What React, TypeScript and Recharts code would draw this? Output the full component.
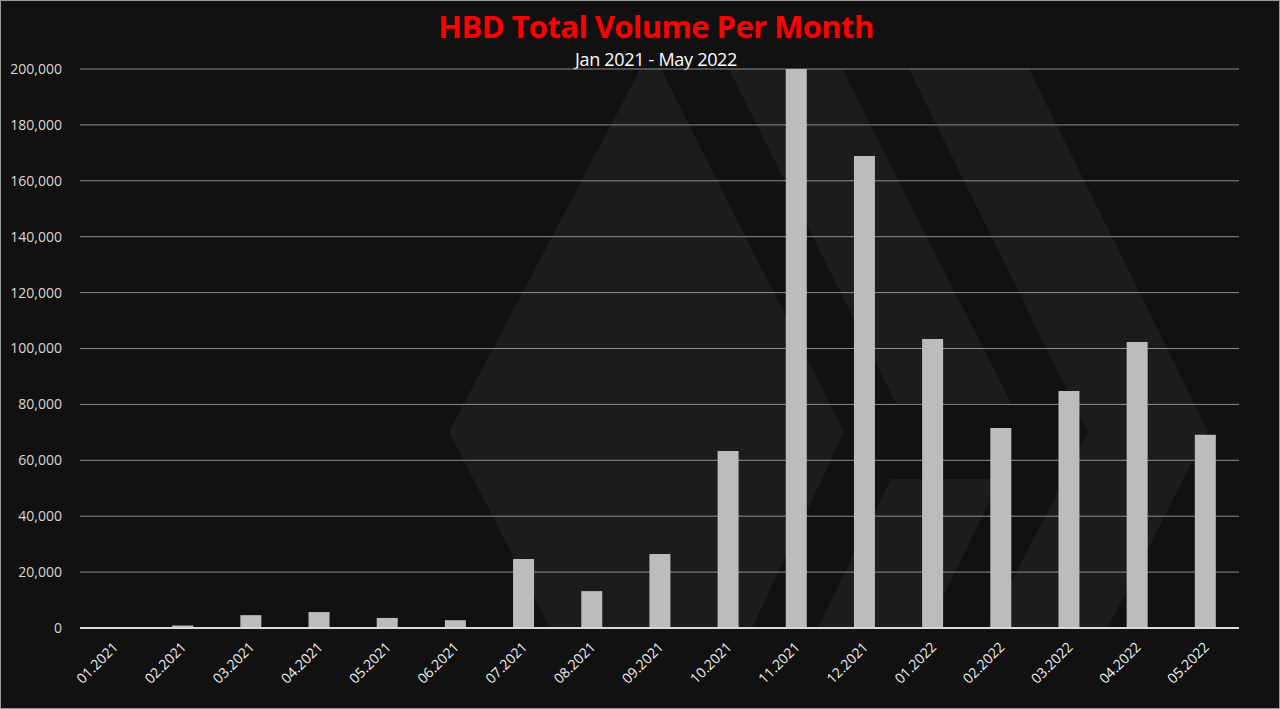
import { BarChart, Bar, XAxis, YAxis, CartesianGrid, ReferenceLine } from "recharts";

const months = [
  "01.2021", "02.2021", "03.2021", "04.2021", "05.2021", "06.2021",
  "07.2021", "08.2021", "09.2021", "10.2021", "11.2021", "12.2021",
  "01.2022", "02.2022", "03.2022", "04.2022", "05.2022",
];

const volume = [
  100, 900, 4600, 5700, 3600, 2800,
  24700, 13200, 26500, 63300, 200000, 168900,
  103400, 71600, 84800, 102300, 69100,
];

const yTicks = [0, 20000, 40000, 60000, 80000, 100000, 120000, 140000, 160000, 180000, 200000];

const chartData = months.map((m, i) => ({ month: m, volume: volume[i] }));

const fmt = (v: number) => v.toLocaleString("en-US");

// faint hive logo behind the plot
function Watermark() {
  const fill = "#1c1c1c";
  return (
    <svg width={1280} height={709} style={{ position: "absolute", left: 0, top: 0 }}>
      <defs>
        <clipPath id="plotClip">
          <rect x={79} y={68} width={1159} height={559} />
        </clipPath>
      </defs>
      <g clipPath="url(#plotClip)" fill={fill}>
        <polygon points="650,48 843,431 745,640 556,640 448,431" />
        <polygon points="727,66 840,66 1010,402 895,402" />
        <polygon points="890,478 1000,478 920,640 810,640" />
        <polygon points="907,66 1027,66 1207,430 1100,640 980,640 1087,432" />
      </g>
    </svg>
  );
}

function XTick(props: any) {
  const { x, y, payload } = props;
  return (
    <g transform={`translate(${x + 5},${y + 12})`}>
      <text
        textAnchor="end"
        transform="rotate(-45)"
        fill="#f2f2f2"
        fontSize={14}
        fontFamily="'Open Sans', sans-serif"
      >
        {payload.value}
      </text>
    </g>
  );
}

export default function App() {
  return (
    <div
      style={{
        position: "absolute",
        left: 0,
        top: 0,
        width: 1280,
        height: 709,
        background: "#111111",
        boxSizing: "border-box",
        border: "1px solid #9a9a9a",
        overflow: "hidden",
        fontFamily: "'Open Sans', sans-serif",
      }}
    >
      <Watermark />
      <div
        style={{
          position: "absolute",
          left: 0,
          width: 1310,
          top: 4,
          textAlign: "center",
          color: "#ff0000",
          fontWeight: 700,
          fontSize: 31,
          letterSpacing: -0.6,
        }}
      >
        HBD Total Volume Per Month
      </div>
      <div
        style={{
          position: "absolute",
          left: 0,
          width: 1310,
          top: 46,
          textAlign: "center",
          color: "#ffffff",
          fontSize: 18,
          letterSpacing: -0.3,
        }}
      >
        Jan 2021 - May 2022
      </div>
      <BarChart
        width={1280}
        height={709}
        data={chartData}
        margin={{ top: 68, right: 42, bottom: 0, left: 0 }}
        style={{ position: "absolute", left: 0, top: 0 }}
      >
        <CartesianGrid vertical={false} stroke="#8c8c8c" strokeWidth={1} />
        <XAxis
          dataKey="month"
          axisLine={false}
          tickLine={false}
          interval={0}
          height={82}
          tick={<XTick />}
        />
        <YAxis
          domain={[0, 200000]}
          ticks={yTicks}
          allowDataOverflow
          axisLine={false}
          tickLine={false}
          width={79}
          tickMargin={12}
          tickFormatter={fmt}
          tick={{ fill: "#d9d9d9", fontSize: 14 }}
        />
        <Bar dataKey="volume" fill="#bcbcbc" barSize={21} isAnimationActive={false} />
        <ReferenceLine y={0} stroke="#d9d9d9" strokeWidth={2} />
      </BarChart>
    </div>
  );
}
